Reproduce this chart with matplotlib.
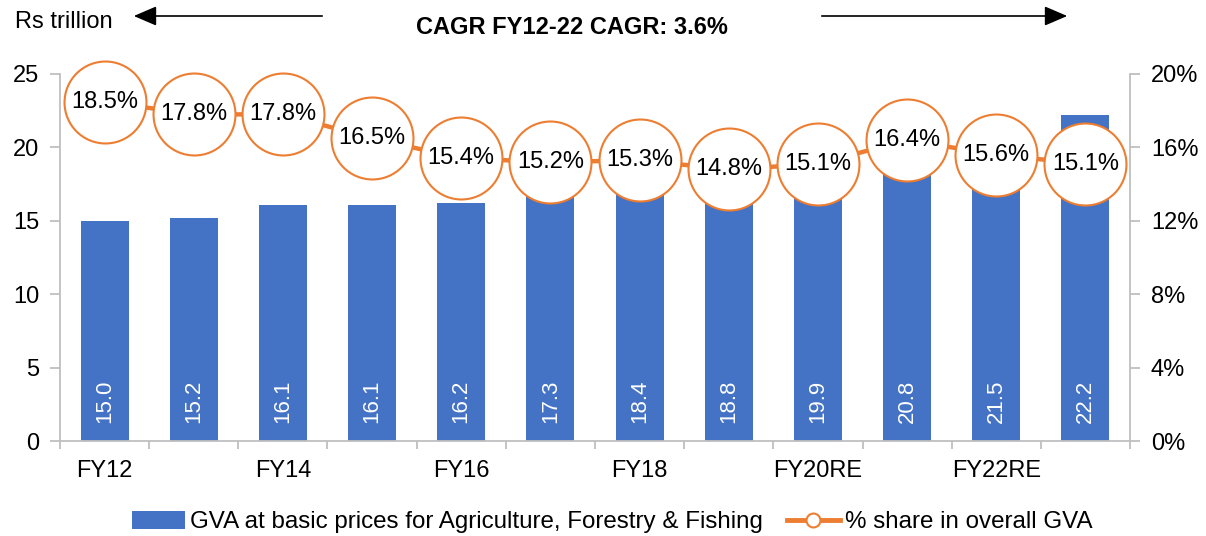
import numpy as np
import matplotlib.pyplot as plt
from matplotlib.lines import Line2D
from matplotlib.patches import Patch, FancyArrowPatch

plt.rcParams['font.family'] = ['Liberation Sans', 'DejaVu Sans']

# data
years = ['FY12', 'FY13', 'FY14', 'FY15', 'FY16', 'FY17', 'FY18', 'FY19',
         'FY20RE', 'FY21RE', 'FY22RE', 'FY23AE']
gva = [15.0, 15.2, 16.1, 16.1, 16.2, 17.3, 18.4, 18.8, 19.9, 20.8, 21.5, 22.2]
share = [18.5, 17.8, 17.8, 16.5, 15.4, 15.2, 15.3, 14.8, 15.1, 16.4, 15.6, 15.1]
left_ticks = [0, 5, 10, 15, 20, 25]
right_ticks = [0, 4, 8, 12, 16, 20]

bar_col = '#4472C4'
line_col = '#ED7D31'
spine_col = '#BFBFBF'

fig = plt.figure(figsize=(12.06, 5.36), dpi=100)
ax = fig.add_axes([60/1206, 1-441/536, 1070/1206, 367/536])
x = np.arange(len(years))

ax.bar(x, gva, width=0.54, color=bar_col, zorder=2)
for i, v in zip(x, gva):
    ax.text(i, 1.25, f'{v:.1f}', rotation=90, color='white', ha='center',
            va='bottom', fontsize=16, zorder=3)

ax.set_xlim(-0.5, len(years) - 0.5)
ax.set_ylim(0, 25)
ax.set_yticks(left_ticks)
ax.set_xticks(x[::2])
ax.set_xticklabels(years[::2])
ax.set_xticks(np.arange(-0.5, len(years)), minor=True)
ax.tick_params(axis='x', which='major', length=0, labelsize=17, pad=14)
ax.tick_params(axis='x', which='minor', length=6, color=spine_col, width=1.3)
ax.tick_params(axis='y', length=7, color=spine_col, width=1.3, labelsize=17, pad=8)
for s in ['top', 'right']:
    ax.spines[s].set_visible(False)
for s in ['left', 'bottom']:
    ax.spines[s].set_color(spine_col)
    ax.spines[s].set_linewidth(1.3)

ax2 = ax.twinx()
ax2.set_ylim(0, 20)
ax2.set_yticks(right_ticks)
ax2.set_yticklabels([f'{t}%' for t in right_ticks])
ax2.tick_params(axis='y', length=7, color=spine_col, width=1.3, labelsize=17, pad=8)
for s in ['top', 'left', 'bottom']:
    ax2.spines[s].set_visible(False)
ax2.spines['right'].set_color(spine_col)
ax2.spines['right'].set_linewidth(1.3)

ax2.plot(x, share, color=line_col, lw=3.2, marker='o', markersize=59,
         markerfacecolor='white', markeredgecolor=line_col, markeredgewidth=1.5,
         zorder=4, clip_on=False)
for i, v in zip(x, share):
    ax2.text(i, v, f'{v:.1f}%', ha='center', va='center', fontsize=17, zorder=5)

# header
fig.text(15/1206, 1-22/536, 'Rs trillion', fontsize=17, ha='left', va='center')
fig.text(572/1206, 1-28/536, 'CAGR FY12-22 CAGR: 3.6%', fontsize=17,
         fontweight='bold', ha='center', va='center')
for x0, x1 in [(325, 131), (819, 1070)]:
    fig.patches.append(FancyArrowPatch(
        (x0/1206, 1-16/536), (x1/1206, 1-16/536), transform=fig.transFigure,
        arrowstyle='-|>,head_length=14,head_width=6', mutation_scale=1,
        color='black', lw=1.2))

handles = [Patch(facecolor=bar_col),
           Line2D([0], [0], color=line_col, lw=3.5, marker='o', markersize=10,
                  markerfacecolor='white', markeredgecolor=line_col,
                  markeredgewidth=1.5)]
labels = ['GVA at basic prices for Agriculture, Forestry & Fishing',
          '% share in overall GVA']
fig.legend(handles, labels, loc='center', bbox_to_anchor=(612/1206, 1-522/536),
           ncol=2, frameon=False, fontsize=17.4, handlelength=2.2,
           handletextpad=0.2, columnspacing=1.0, handleheight=0.75)

fig.savefig('out.png', dpi=100)
